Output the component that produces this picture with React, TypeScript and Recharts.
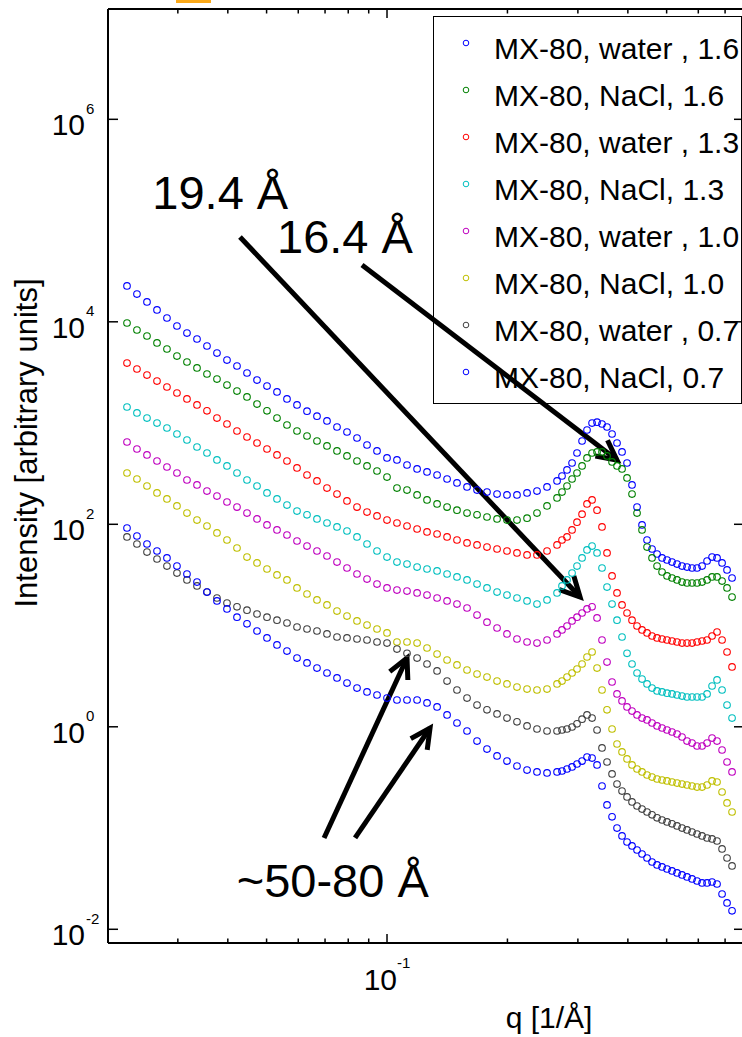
import React from 'react';
import { ScatterChart, Scatter, XAxis, YAxis, Legend, ReferenceLine, ReferenceDot } from 'recharts';

const FONT = '"Liberation Sans", Arial, Helvetica, sans-serif';

// scattering vector grid [1/Å], shared by all samples
const q = [
  0.02239, 0.02371, 0.02512, 0.02661, 0.02818, 0.02985, 0.03162, 0.0335, 0.03548, 0.03758, 0.03981, 0.04217, 0.04467,
  0.04732, 0.05012, 0.05309, 0.05623, 0.05957, 0.0631, 0.06683, 0.07079, 0.07499, 0.07943, 0.08414, 0.08913, 0.09441, 0.1,
  0.1059, 0.1122, 0.1189, 0.1259, 0.1334, 0.1413, 0.1496, 0.1585, 0.1679, 0.1778, 0.1884, 0.1995, 0.2113, 0.2239, 0.2371,
  0.2512, 0.2661, 0.2738, 0.2818, 0.2901, 0.2985, 0.3073, 0.3162, 0.3255, 0.335, 0.3447, 0.3548, 0.3652, 0.3758, 0.3868,
  0.3981, 0.4097, 0.4217, 0.434, 0.4467, 0.4597, 0.4732, 0.487, 0.5012, 0.5158, 0.5309, 0.5464, 0.5623, 0.5788, 0.5957,
  0.6131, 0.631, 0.6494, 0.6683, 0.6879, 0.7079, 0.7286,
];

const water16 = [
  22600, 18800, 15700, 13100, 10900, 9090, 7740, 6760, 5770, 4910, 4190, 3660, 3120, 2660, 2320, 2030, 1730, 1510, 1310,
  1170, 1050, 914, 816, 712, 607, 530, 452, 432, 385, 352, 329, 307, 280, 256, 234, 218, 208, 199, 195, 195, 204, 213, 234,
  268, 300, 344, 403, 506, 665, 854, 1000, 1020, 979, 914, 780, 635, 518, 403, 245, 148, 98.5, 70.0, 57.0, 50.9, 46.5, 44.4,
  42.4, 40.5, 38.7, 37.8, 37.0, 37.0, 38.7, 43.4, 47.5, 46.5, 41.5, 35.4, 29.5,
];
const nacl16 = [
  9730, 8300, 7240, 6180, 5390, 4590, 4010, 3500, 3050, 2720, 2370, 2070, 1810, 1540, 1320, 1120, 957, 835, 745, 665, 594,
  530, 473, 422, 377, 336, 293, 228, 218, 195, 174, 159, 148, 138, 129, 124, 118, 113, 110, 110, 115, 129, 152, 182, 208,
  239, 280, 321, 377, 452, 506, 518, 518, 473, 413, 377, 352, 287, 199, 129, 87.9, 59.6, 46.5, 38.7, 33.8, 30.9, 29.5, 28.2,
  26.9, 26.3, 26.3, 26.3, 26.9, 28.2, 30.2, 30.2, 27.5, 23.5, 19.1,
];
const water13 = [
  3910, 3420, 2980, 2600, 2270, 1980, 1730, 1510, 1320, 1120, 979, 835, 728, 635, 554, 484, 422, 360, 307, 268, 228, 199,
  170, 148, 132, 121, 110, 103, 96.2, 89.9, 84.0, 80.2, 75.0, 70.0, 65.4, 62.5, 59.6, 57.0, 54.5, 52.1, 49.8, 49.8, 54.5,
  62.5, 70.0, 75.0, 87.9, 105, 126, 159, 174, 138, 94.1, 52.1, 30.9, 21.0, 16.0, 13.3, 11.3, 9.9, 9.05, 8.45, 7.88, 7.54,
  7.36, 7.2, 7.04, 6.88, 6.71, 6.71, 6.71, 6.88, 7.04, 7.2, 7.88, 8.63, 7.2, 5.48, 3.9,
];
const nacl13 = [
  1440, 1260, 1120, 1000, 894, 780, 680, 580, 506, 432, 377, 321, 274, 239, 204, 178, 155, 135, 124, 113, 103, 94.1, 85.9,
  75.0, 63.9, 54.5, 47.5, 42.4, 40.5, 37.8, 36.2, 34.6, 32.3, 30.2, 28.2, 25.7, 23.5, 21.4, 20.0, 18.7, 17.5, 16.3, 17.9,
  21.0, 24.6, 28.2, 33.0, 38.7, 46.5, 55.8, 61.0, 52.1, 37.0, 24.0, 16.3, 11.3, 7.71, 5.32, 4.17, 3.4, 2.96, 2.65, 2.41,
  2.26, 2.21, 2.15, 2.11, 2.06, 2.01, 1.97, 1.97, 1.97, 1.97, 2.11, 2.53, 2.9, 2.31, 1.64, 1.22,
];
const water10 = [
  650, 554, 484, 422, 368, 321, 274, 245, 213, 190, 166, 148, 129, 113, 98.5, 87.9, 78.4, 68.4, 61.0, 54.5, 48.6, 42.4, 37.0,
  32.3, 28.8, 25.7, 23.5, 22.4, 21.9, 21.0, 20.0, 18.7, 17.5, 16.3, 14.9, 12.7, 10.8, 9.46, 8.26, 7.36, 6.88, 6.71, 7.2,
  8.26, 9.05, 9.9, 11.1, 12.1, 13.3, 14.6, 15.3, 11.9, 7.2, 4.36, 2.77, 2.11, 1.8, 1.57, 1.43, 1.31, 1.22, 1.17, 1.09, 1.02,
  0.973, 0.93, 0.888, 0.849, 0.793, 0.723, 0.691, 0.646, 0.646, 0.691, 0.774, 0.723, 0.59, 0.449, 0.358,
];
const nacl10 = [
  321, 280, 239, 204, 178, 152, 129, 110, 96.2, 82.1, 70.0, 58.3, 47.5, 41.5, 36.2, 31.6, 28.2, 23.5, 20.5, 17.9, 16.0, 13.9,
  12.4, 11.1, 10.1, 9.24, 8.45, 6.88, 6.88, 6.71, 6.0, 5.23, 4.57, 4.08, 3.64, 3.32, 3.1, 2.83, 2.65, 2.47, 2.36, 2.31, 2.36,
  2.65, 2.83, 3.1, 3.4, 3.72, 4.17, 4.89, 5.48, 3.8, 2.31, 1.47, 0.951, 0.676, 0.564, 0.481, 0.42, 0.383, 0.358, 0.334,
  0.319, 0.305, 0.298, 0.292, 0.285, 0.278, 0.272, 0.266, 0.26, 0.254, 0.254, 0.266, 0.292, 0.285, 0.227, 0.177, 0.144,
];
const water07 = [
  75.0, 63.9, 53.2, 45.4, 38.7, 33.0, 28.2, 24.6, 21.4, 18.7, 16.7, 15.3, 14.2, 13.0, 12.1, 11.3, 10.6, 9.67, 9.24, 8.83,
  8.26, 7.71, 7.54, 7.36, 7.2, 6.88, 6.71, 5.86, 5.32, 4.77, 4.17, 3.56, 2.83, 2.31, 1.92, 1.64, 1.47, 1.34, 1.22, 1.12,
  1.02, 0.951, 0.909, 0.909, 0.93, 0.951, 0.995, 1.07, 1.19, 1.31, 1.22, 0.93, 0.618, 0.449, 0.342, 0.272, 0.232, 0.203,
  0.181, 0.165, 0.154, 0.144, 0.135, 0.126, 0.12, 0.115, 0.11, 0.105, 0.1, 0.0957, 0.0914, 0.0873, 0.0835, 0.0797, 0.078,
  0.0745, 0.0622, 0.0506, 0.0422,
];
const nacl07 = [
  91.9, 76.6, 63.9, 54.5, 46.5, 38.7, 32.3, 26.9, 21.4, 17.5, 14.6, 12.1, 10.4, 8.83, 7.54, 6.43, 5.6, 4.77, 4.27, 3.8, 3.4,
  3.04, 2.7, 2.41, 2.21, 2.06, 1.92, 1.84, 1.84, 1.84, 1.72, 1.57, 1.31, 1.09, 0.909, 0.723, 0.603, 0.515, 0.459, 0.41,
  0.374, 0.358, 0.35, 0.358, 0.366, 0.383, 0.401, 0.429, 0.459, 0.503, 0.491, 0.42, 0.26, 0.169, 0.129, 0.1, 0.0835,
  0.0728, 0.0665, 0.0607, 0.0554, 0.0506, 0.0462, 0.0432, 0.0413, 0.0394, 0.0377, 0.036, 0.0344, 0.0329, 0.0314, 0.03,
  0.0287, 0.0287, 0.0293, 0.028, 0.0223, 0.0182, 0.0152,
];

const seriesNames = [
  'MX-80, water , 1.6',
  'MX-80, NaCl, 1.6',
  'MX-80, water , 1.3',
  'MX-80, NaCl, 1.3',
  'MX-80, water , 1.0',
  'MX-80, NaCl, 1.0',
  'MX-80, water , 0.7',
  'MX-80, NaCl, 0.7',
];
const seriesColors = ['#0000ff', '#008000', '#ff0000', '#00bfbf', '#bf00bf', '#bfbf00', '#404040', '#0000ff'];
const seriesValues = [water16, nacl16, water13, nacl13, water10, nacl10, water07, nacl07];

const xTicks = [0.03, 0.04, 0.05, 0.06, 0.07, 0.08, 0.09, 0.1, 0.2, 0.3, 0.4, 0.5, 0.6, 0.7];
const xLabelled = [0.1];
const yTicks = [1e-2, 1, 1e2, 1e4, 1e6];
const yTickExp = ['-2', '0', '2', '4', '6'];

// annotation arrows: [from, to] as [q, intensity]
const arrowFrom = [[0.0429, 68800], [0.0866, 36400], [0.0696, 0.0798], [0.0832, 0.0798]];
const arrowTo = [[0.3038, 19.1], [0.3758, 431], [0.1122, 4.78], [0.1281, 0.973]];
const noteText = ['19.4 Å', '16.4 Å', '~50-80 Å'];
const noteAt = [[0.0259, 130000], [0.0531, 47800], [0.0421, 0.0208]];

const W = 760;
const H = 1037;

const XTickBottom = (p: any) => {
  const { x, y, payload } = p;
  const major = xLabelled.includes(payload.value);
  return (
    <g>
      <line x1={x} y1={y} x2={x} y2={y - (major ? 9 : 4.5)} stroke="#000" strokeWidth={1.5} />
      {major && (
        <>
          <text x={x + 10} y={y + 47} textAnchor="end" fontSize={30} fontFamily={FONT} fill="#000">10</text>
          <text x={x + 10} y={y + 25} fontSize={15} fontFamily={FONT} fill="#000">-1</text>
        </>
      )}
    </g>
  );
};

const XTickTop = (p: any) => {
  const { x, y, payload } = p;
  const major = xLabelled.includes(payload.value);
  return <line x1={x} y1={y} x2={x} y2={y + (major ? 9 : 4.5)} stroke="#000" strokeWidth={1.5} />;
};

const YTickLeft = (p: any) => {
  const { x, y, payload } = p;
  const exp = yTickExp[yTicks.indexOf(payload.value)];
  return (
    <g>
      <line x1={x} y1={y} x2={x + 10} y2={y} stroke="#000" strokeWidth={1.5} />
      <text x={x - 23} y={y + 16} textAnchor="end" fontSize={30} fontFamily={FONT} fill="#000">10</text>
      <text x={x - 22} y={y - 5.5} fontSize={15} fontFamily={FONT} fill="#000">{exp}</text>
    </g>
  );
};

const YTickRight = (p: any) => {
  const { x, y } = p;
  return <line x1={x} y1={y} x2={x - 10} y2={y} stroke="#000" strokeWidth={1.5} />;
};

const XTitle = (p: any) => {
  const vb = p.viewBox || { x: 108, y: 943 };
  return (
    <text x={vb.x + 441} y={vb.y + 85} textAnchor="middle" fontSize={30} fontFamily={FONT} fill="#000">
      q [1/Å]
    </text>
  );
};

const YTitle = (p: any) => {
  const vb = p.viewBox || { x: 0, y: 9 };
  return (
    <text
      transform={`translate(${vb.x + 36.5}, ${vb.y + 434}) rotate(-90)`}
      textAnchor="middle"
      fontSize={31}
      fontFamily={FONT}
      fill="#000"
    >
      Intensity [arbitrary units]
    </text>
  );
};

const Arrow = (p: any) => {
  const { x1, y1, x2, y2 } = p;
  const a = Math.atan2(y2 - y1, x2 - x1);
  const len = 22;
  const spread = 0.47;
  const hx1 = x2 - len * Math.cos(a - spread);
  const hy1 = y2 - len * Math.sin(a - spread);
  const hx2 = x2 - len * Math.cos(a + spread);
  const hy2 = y2 - len * Math.sin(a + spread);
  return (
    <g>
      <line x1={x1} y1={y1} x2={x2} y2={y2} stroke="#000" strokeWidth={5} />
      <polyline
        points={`${hx1},${hy1} ${x2},${y2} ${hx2},${hy2}`}
        fill="none"
        stroke="#000"
        strokeWidth={5}
        strokeLinejoin="miter"
      />
    </g>
  );
};

const noteShape = (text: string) => (p: any) => (
  <text x={p.cx} y={p.cy} fontSize={47} fontFamily={FONT} fill="#000">
    {text}
  </text>
);

const ring = (color: string) => (p: any) => (
  <circle cx={p.cx} cy={p.cy} r={3.3} fill="none" stroke={color} strokeWidth={1.1} />
);

const LegendBox = () => (
  <div
    style={{
      boxSizing: 'border-box',
      width: 309,
      height: 388,
      border: '1.5px solid #000',
      paddingTop: 8,
      fontFamily: FONT,
      fontSize: 30,
      color: '#000',
    }}
  >
    {seriesNames.map((name, i) => (
      <div key={name} style={{ position: 'relative', height: 47, lineHeight: '47px', paddingLeft: 60, whiteSpace: 'nowrap' }}>
        <svg width={10} height={10} style={{ position: 'absolute', left: 27, top: 12.5 }}>
          <circle cx={5} cy={5} r={2.8} fill="none" stroke={seriesColors[i]} strokeWidth={1} />
        </svg>
        {name}
      </div>
    ))}
  </div>
);

export default function App() {
  const tables = seriesValues.map((vals) => q.map((qv, i) => ({ q: qv, I: vals[i] })));
  return (
    <div style={{ position: 'relative', width: 742, height: H, overflow: 'hidden', background: '#fff', fontFamily: FONT }}>
      <style>{'body{margin:0}'}</style>
      <div style={{ position: 'absolute', left: 176, top: 0, width: 35, height: 3, background: '#fba919' }} />
      <ScatterChart width={W} height={H} margin={{ top: 0, right: 0, bottom: 0, left: 0 }}>
        <XAxis
          xAxisId={0}
          dataKey="q"
          type="number"
          scale="log"
          domain={[0.02007, 0.7805]}
          allowDataOverflow
          ticks={xTicks}
          interval={0}
          height={94}
          tickSize={0}
          tickMargin={0}
          tickLine={false}
          tick={(p: any) => <XTickBottom {...p} />}
          axisLine={{ stroke: '#000', strokeWidth: 2 }}
          label={<XTitle />}
        />
        <XAxis
          xAxisId="top"
          orientation="top"
          dataKey="q"
          type="number"
          scale="log"
          domain={[0.02007, 0.7805]}
          allowDataOverflow
          ticks={xTicks}
          interval={0}
          height={9}
          tickSize={0}
          tickMargin={0}
          tickLine={false}
          tick={(p: any) => <XTickTop {...p} />}
          axisLine={{ stroke: '#000', strokeWidth: 2 }}
        />
        <YAxis
          yAxisId={0}
          dataKey="I"
          type="number"
          scale="log"
          domain={[0.00732, 1.229e7]}
          allowDataOverflow
          ticks={yTicks}
          interval={0}
          width={108}
          tickSize={0}
          tickMargin={0}
          tickLine={false}
          tick={(p: any) => <YTickLeft {...p} />}
          axisLine={{ stroke: '#000', strokeWidth: 2 }}
          label={<YTitle />}
        />
        <YAxis
          yAxisId="right"
          orientation="right"
          dataKey="I"
          type="number"
          scale="log"
          domain={[0.00732, 1.229e7]}
          allowDataOverflow
          ticks={yTicks}
          interval={0}
          width={16}
          tickSize={0}
          tickMargin={0}
          tickLine={false}
          tick={(p: any) => <YTickRight {...p} />}
          axisLine={{ stroke: '#000', strokeWidth: 2 }}
        />
        {tables.map((data, i) => (
          <Scatter
            key={seriesNames[i]}
            name={seriesNames[i]}
            data={data}
            shape={ring(seriesColors[i])}
            isAnimationActive={false}
          />
        ))}
        {arrowFrom.map((from, i) => (
          <ReferenceLine
            key={'arrow' + i}
            segment={[
              { x: from[0], y: from[1] },
              { x: arrowTo[i][0], y: arrowTo[i][1] },
            ]}
            stroke="#000"
            shape={Arrow}
          />
        ))}
        {noteText.map((t, i) => (
          <ReferenceDot key={t} x={noteAt[i][0]} y={noteAt[i][1]} r={0} shape={noteShape(t)} />
        ))}
        <Legend
          layout="vertical"
          align="center"
          verticalAlign="middle"
          wrapperStyle={{ left: 433, top: 16, width: 309, height: 388 }}
          content={() => <LegendBox />}
        />
      </ScatterChart>
    </div>
  );
}
